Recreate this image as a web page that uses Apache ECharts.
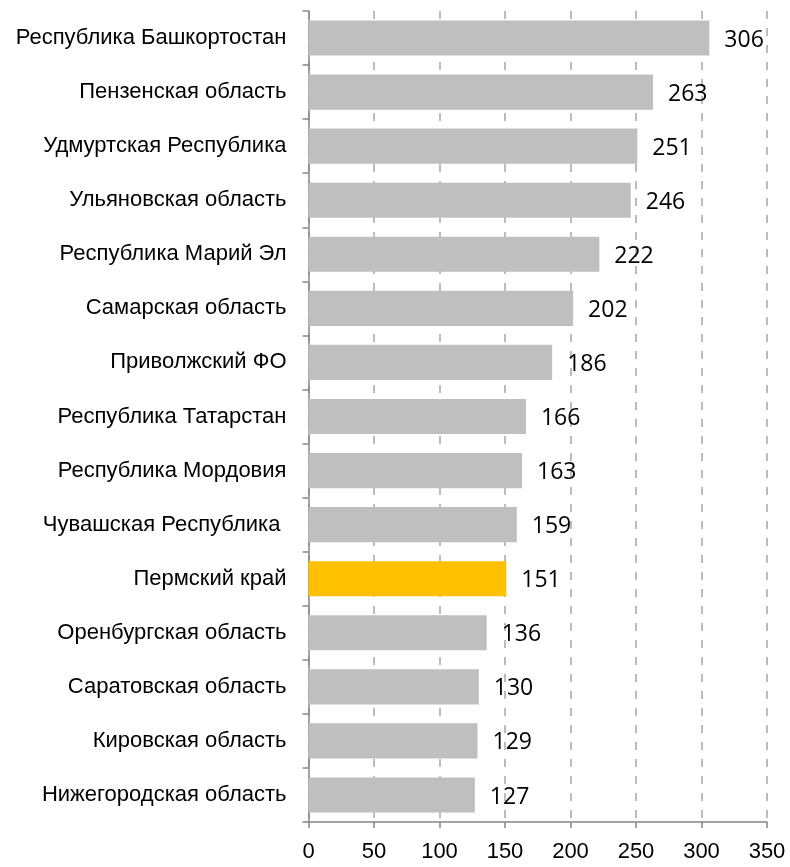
<!DOCTYPE html>
<html>
<head>
<meta charset="utf-8">
<script src="https://cdn.jsdelivr.net/npm/echarts@6/dist/echarts.min.js"></script>
<style>
  html, body { margin: 0; padding: 0; background: #fff; }
  #chart { width: 790px; height: 867px; }
</style>
</head>
<body>
<div id="chart"></div>
<script>
// регионы сверху вниз
const regions = [
  'Республика Башкортостан',
  'Пензенская область',
  'Удмуртская Республика',
  'Ульяновская область',
  'Республика Марий Эл',
  'Самарская область',
  'Приволжский ФО',
  'Республика Татарстан',
  'Республика Мордовия',
  'Чувашская Республика ',
  'Пермский край',
  'Оренбургская область',
  'Саратовская область',
  'Кировская область',
  'Нижегородская область'
]
const values = [306, 263, 251, 246, 222, 202, 186, 166, 163, 159, 151, 136, 130, 129, 127]
const highlighted = 'Пермский край'
const xTicks = [0, 350, 50] // min, max, interval

const labelFont = '"Liberation Sans", Arial, sans-serif'

let chart = echarts.init(document.getElementById('chart'))
let options = {
  animation: false,
  grid: {
    left: 308.5,
    right: 23,
    top: 11,
    bottom: 45,
    containLabel: false
  },
  xAxis: {
    type: 'value',
    min: xTicks[0],
    max: xTicks[1],
    interval: xTicks[2],
    axisLine: { show: true, lineStyle: { color: '#868686', width: 1.5 } },
    axisTick: { show: true, length: 6, lineStyle: { color: '#868686', width: 1.5 } },
    axisLabel: {
      margin: 19,
      color: '#000',
      fontFamily: labelFont,
      fontSize: 22
    },
    splitLine: {
      show: true,
      lineStyle: { color: '#a6a6a6', width: 1.5, type: [8, 9] }
    }
  },
  yAxis: {
    type: 'category',
    inverse: true,
    data: regions,
    axisLine: { show: true, lineStyle: { color: '#868686', width: 1.5 } },
    axisTick: { show: true, length: 6, lineStyle: { color: '#868686', width: 1.5 } },
    axisLabel: {
      margin: 22,
      color: '#000',
      fontFamily: labelFont,
      fontSize: 22
    }
  },
  series: [
    {
      type: 'bar',
      barCategoryGap: '35%',
      data: values.map((v, i) => ({
        value: v,
        itemStyle: { color: regions[i] === highlighted ? '#ffc000' : '#bfbfbf' }
      })),
      label: {
        show: true,
        position: 'right',
        distance: 15,
        offset: [0, 2],
        color: '#000',
        fontFamily: '"Open Sans", sans-serif',
        fontSize: 23
      }
    }
  ]
}
chart.setOption(options, true)
</script>
</body>
</html>
